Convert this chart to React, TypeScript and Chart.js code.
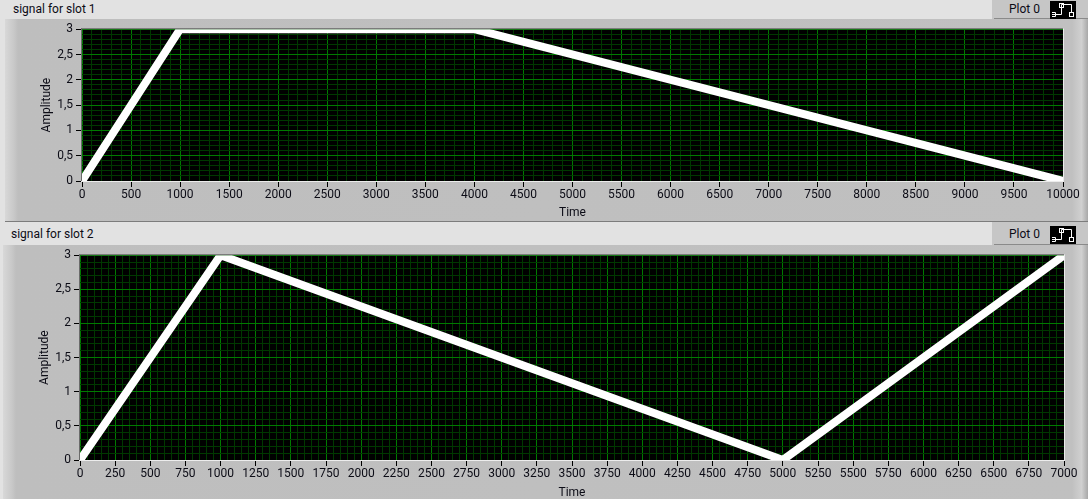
import React, { useEffect, useRef } from "react";
import { Chart, registerables } from "chart.js";

Chart.register(...registerables);

const slot1X = [0, 1000, 4000, 10000];
const slot1Y = [0, 3, 3, 0];
const slot2X = [0, 1000, 5000, 7000];
const slot2Y = [0, 3, 0, 3];
const slot1Title = "signal for slot 1";
const slot2Title = "signal for slot 2";
const legendName = "Plot 0";
const xTitle = "Time";
const yTitle = "Amplitude";

const FONT = "Roboto, sans-serif";
const TEXT = "#0c0c16";
const MAJOR = "#007a00";
const MINOR = "#003800";

const framePlugin = {
  id: "frame",
  beforeDraw(chart: any) {
    const a = chart.chartArea;
    chart.ctx.save();
    chart.ctx.fillStyle = "#000";
    chart.ctx.fillRect(a.left, a.top, a.right - a.left, a.bottom - a.top);
    chart.ctx.restore();
  },
  afterDraw(chart: any) {
    const a = chart.chartArea;
    const c = chart.ctx;
    c.save();
    c.fillStyle = "#6a6a6a";
    c.fillRect(a.left - 1, a.top - 1, a.right - a.left + 2, 1);
    c.fillRect(a.left - 1, a.top - 1, 1, a.bottom - a.top + 2);
    c.fillStyle = "#ececec";
    c.fillRect(a.left - 1, a.bottom, a.right - a.left + 2, 1);
    c.fillRect(a.right, a.top - 1, 1, a.bottom - a.top + 2);
    c.restore();
  },
};

type PlotProps = {
  xs: number[];
  ys: number[];
  xMax: number;
  xMinorStep: number;
  xMajorStep: number;
  top: number;
  height: number;
  plotLeft: number;
  plotRight: number;
  plotTop: number;
  plotBottom: number;
  yTitleX: number;
  xTitleY: number;
};

function Plot(p: PlotProps) {
  const ref = useRef<HTMLCanvasElement | null>(null);
  useEffect(() => {
    if (!ref.current) return;
    const isX = (v: number) => Math.round(v) % p.xMajorStep === 0;
    const isY = (v: number) => Math.round(v * 10) % 5 === 0;
    const chart = new Chart(ref.current, {
      type: "line",
      data: {
        datasets: [
          {
            data: p.xs.map((x, i) => ({ x, y: p.ys[i] })),
            borderColor: "#ffffff",
            borderWidth: 8,
            pointRadius: 0,
            tension: 0,
            clip: 0,
            borderJoinStyle: "miter",
            borderCapStyle: "butt",
          },
        ],
      },
      plugins: [framePlugin],
      options: {
        animation: false,
        responsive: false,
        devicePixelRatio: 1,
        layout: {
          autoPadding: false,
          padding: {
            left: 0,
            top: p.plotTop - p.top,
            right: 1088 - p.plotRight,
            bottom: 0,
          },
        },
        plugins: { legend: { display: false }, tooltip: { enabled: false }, title: { display: false } },
        scales: {
          x: {
            type: "linear",
            min: 0,
            max: p.xMax,
            afterFit(s: any) {
              s.height = p.top + p.height - p.plotBottom;
            },
            afterBuildTicks(s: any) {
              const out = [];
              for (let v = 0; v <= p.xMax; v += p.xMinorStep) out.push({ value: v });
              s.ticks = out;
            },
            ticks: {
              autoSkip: false,
              maxRotation: 0,
              minRotation: 0,
              color: TEXT,
              font: { family: FONT, size: 12 },
              padding: 1,
              callback: (v: any) => (isX(Number(v)) ? String(v) : ""),
            },
            grid: {
              tickLength: 6,
              lineWidth: 1,
              color: (c: any) => (isX(c.tick.value) ? MAJOR : MINOR),
              tickColor: (c: any) => (isX(c.tick.value) ? "#000000" : "rgba(0,0,0,0)"),
            },
            border: { display: false },
            title: {
              display: true,
              text: xTitle,
              color: TEXT,
              font: { family: FONT, size: 12 },
              padding: { top: 0, bottom: p.top + p.height - p.xTitleY - 7 },
            },
          },
          y: {
            type: "linear",
            min: 0,
            max: 3,
            afterFit(s: any) {
              s.width = p.plotLeft;
            },
            afterBuildTicks(s: any) {
              const out = [];
              for (let i = 0; i <= 30; i++) out.push({ value: i / 10 });
              s.ticks = out;
            },
            ticks: {
              autoSkip: false,
              color: TEXT,
              font: { family: FONT, size: 12 },
              padding: 3,
              callback: (v: any) => (isY(Number(v)) ? String(Number(v)).replace(".", ",") : ""),
            },
            grid: {
              tickLength: 6,
              lineWidth: 1,
              color: (c: any) => (isY(c.tick.value) ? MAJOR : MINOR),
              tickColor: (c: any) => (isY(c.tick.value) ? "#000000" : "rgba(0,0,0,0)"),
            },
            border: { display: false },
            title: {
              display: true,
              text: yTitle,
              color: TEXT,
              font: { family: FONT, size: 12 },
              padding: { top: p.yTitleX - 7, bottom: 0 },
            },
          },
        },
      } as any,
    } as any);
    return () => chart.destroy();
  }, []);
  return (
    <canvas
      ref={ref}
      width={1088}
      height={p.height}
      style={{ position: "absolute", left: 0, top: p.top, width: 1088, height: p.height, display: "block" }}
    />
  );
}

function box(left: number, top: number, width: number, height: number, extra: React.CSSProperties = {}): React.CSSProperties {
  return { position: "absolute", left, top, width, height, ...extra };
}

function LegendIcon({ left, top }: { left: number; top: number }) {
  return (
    <svg width={26} height={18} style={{ position: "absolute", left, top }}>
      <rect width={26} height={18} fill="#000" />
      <path d="M2 13.5H11.5V3.5H21.5V12" stroke="#fff" fill="none" />
      <path d="M2 11.5H5.5V15.5H2" stroke="#fff" fill="none" />
      <rect x="9.5" y="2.5" width="4" height="4" stroke="#fff" fill="none" />
      <rect x="19.5" y="11.5" width="4" height="4" stroke="#fff" fill="none" />
    </svg>
  );
}

function Panel({ top, height, left, barH, title, titleX, textDy }: { top: number; height: number; left: number; barH: number; title: string; titleX: number; textDy: number }) {
  return (
    <>
      <div style={box(0, top, 1088, barH, { background: "#e2e2e2" })} />
      <div style={box(992, top, 96, barH, { background: "#c6c6c6" })} />
      <div style={box(titleX, top + textDy, 300, barH, { font: `12px ${FONT}`, color: TEXT, lineHeight: `${barH - 2}px`, whiteSpace: "nowrap" })}>{title}</div>
      <div style={box(1009, top + textDy, 50, barH, { font: `12px ${FONT}`, color: TEXT, lineHeight: `${barH - 2}px` })}>{legendName}</div>
      <div
        style={box(left, top + barH, 1088 - left, height, {
          background: "linear-gradient(90deg,#d8d8d8 0,#c8c8c8 9px,#bebebe 13px,#c0c0c0 100%)",
        })}
      />
      <div style={box(1072, top + barH, 16, height, { background: "linear-gradient(90deg,#c0c0c0,#d0d0d0 60%,#a8a8a8)" })} />
      <div style={box(994, top + barH - 1, 94, 1, { background: "#8a8a8a" })} />
    </>
  );
}

export default function App() {
  return (
    <div style={{ position: "fixed", left: 0, top: 0, width: 1088, height: 499, overflow: "hidden", background: "#e2e2e2" }}>
      <Panel top={0} height={202} left={5} barH={19} title={slot1Title} titleX={13} textDy={1} />
      <div style={box(5, 221, 1083, 1, { background: "#7c7c7c" })} />
      <Panel top={222} height={254} left={3} barH={23} title={slot2Title} titleX={11} textDy={2} />
      <LegendIcon left={1050} top={1} />
      <LegendIcon left={1050} top={226} />
      <Plot xs={slot1X} ys={slot1Y} xMax={10000} xMinorStep={100} xMajorStep={500} top={19} height={202} plotLeft={82} plotRight={1063} plotTop={29} plotBottom={181} yTitleX={47} xTitleY={213} />
      <Plot xs={slot2X} ys={slot2Y} xMax={7000} xMinorStep={50} xMajorStep={250} top={245} height={254} plotLeft={80} plotRight={1064} plotTop={254} plotBottom={460} yTitleX={45} xTitleY={493} />
    </div>
  );
}
